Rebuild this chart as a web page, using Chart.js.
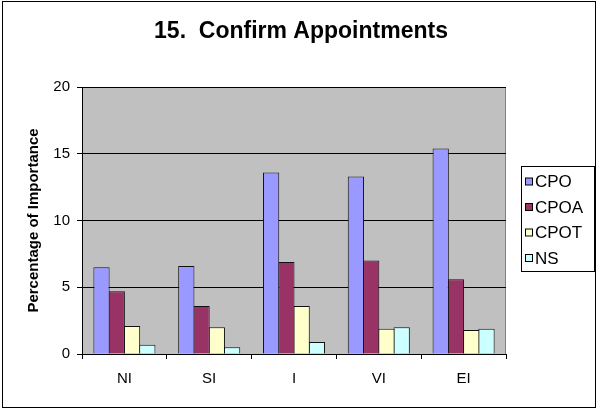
<!DOCTYPE html>
<html lang="en">
<head>
    <meta charset="UTF-8">
    <title>15. Confirm Appointments</title>
    <script src="https://cdn.jsdelivr.net/npm/chart.js"></script>
    <style>
        body { margin: 0; background: #fff; }
        #wrap { width: 598px; height: 409px; }
    </style>
</head>
<body>
    <div id="wrap"><canvas id="chart"></canvas></div>

    <script>
        const categories = ['NI', 'SI', 'I', 'VI', 'EI'];
        const seriesNames = ['CPO', 'CPOA', 'CPOT', 'NS'];
        const cpo  = [6.5, 6.6, 13.6, 13.3, 15.4];
        const cpoa = [4.7, 3.6, 6.9, 7.0, 5.6];
        const cpot = [2.1, 2.0, 3.6, 1.9, 1.8];
        const ns   = [0.7, 0.5, 0.9, 2.0, 1.9];
        const yTicks = [0, 5, 10, 15, 20];

        const colors = ['#9999FF', '#993366', '#FFFFCC', '#CCFFFF'];
        const values = [cpo, cpoa, cpot, ns];
        const FONT = '"Liberation Sans", Arial, sans-serif';

        // gray plot area, outer frame, title and boxed legend
        const excelLook = {
            id: 'excelLook',
            beforeDraw(chart) {
                const { ctx, chartArea: a } = chart;
                ctx.save();
                ctx.fillStyle = '#fff';
                ctx.fillRect(0, 0, chart.width, chart.height);
                ctx.fillStyle = '#C0C0C0';
                ctx.fillRect(a.left, a.top, a.right - a.left, a.bottom - a.top);
                ctx.strokeStyle = '#808080';
                ctx.lineWidth = 1;
                ctx.beginPath();
                ctx.moveTo(a.left, a.top + 0.5);
                ctx.lineTo(a.right - 0.5, a.top + 0.5);
                ctx.lineTo(a.right - 0.5, a.bottom);
                ctx.stroke();
                ctx.restore();
            },
            afterDraw(chart) {
                const { ctx } = chart;
                ctx.save();
                ctx.strokeStyle = '#000';
                ctx.lineWidth = 1;
                ctx.strokeRect(2.5, 1.5, chart.width - 5, chart.height - 3);

                ctx.fillStyle = '#000';
                ctx.font = 'bold 23px ' + FONT;
                ctx.textAlign = 'center';
                ctx.textBaseline = 'middle';
                ctx.fillText('15.  Confirm Appointments', 301, 32);

                // legend
                ctx.strokeRect(521.5, 166.5, 73, 105);
                ctx.font = '17px ' + FONT;
                ctx.textAlign = 'left';
                chart.data.datasets.forEach((ds, i) => {
                    const y = 181.5 + i * 25.5;
                    ctx.fillStyle = ds.backgroundColor;
                    ctx.fillRect(525.5, y - 3.5, 7, 7);
                    ctx.strokeStyle = '#000';
                    ctx.strokeRect(525.5, y - 3.5, 7, 7);
                    ctx.fillStyle = '#000';
                    ctx.fillText(ds.label, 535, y + 1);
                });
                ctx.restore();
            }
        };

        const ctx = document.getElementById('chart').getContext('2d');
        const chart = new Chart(ctx, {
            type: 'bar',
            data: {
                labels: categories,
                datasets: seriesNames.map((name, i) => ({
                    label: name,
                    data: values[i],
                    backgroundColor: colors[i],
                    borderColor: '#111',
                    borderWidth: 1,
                    borderSkipped: 'bottom',
                    categoryPercentage: 0.72,
                    barPercentage: 1.065
                }))
            },
            options: {
                responsive: true,
                maintainAspectRatio: false,
                animation: false,
                layout: { padding: { left: 0, top: 87, right: 92, bottom: 0 } },
                plugins: {
                    legend: { display: false },
                    title: { display: false },
                    tooltip: { enabled: false }
                },
                scales: {
                    x: {
                        afterFit: (s) => { s.height = 55; },
                        grid: {
                            offset: true,
                            drawOnChartArea: false,
                            tickLength: 5,
                            color: '#000'
                        },
                        border: { color: '#000' },
                        ticks: {
                            color: '#000',
                            padding: 11,
                            font: { family: FONT, size: 15 }
                        }
                    },
                    y: {
                        min: 0,
                        max: 20,
                        afterFit: (s) => { s.width = 82; },
                        afterBuildTicks: (s) => { s.ticks = yTicks.map(v => ({ value: v })); },
                        grid: {
                            color: '#000',
                            tickLength: 5
                        },
                        border: { color: '#000' },
                        ticks: {
                            color: '#000',
                            padding: 7,
                            font: { family: FONT, size: 15 }
                        },
                        title: {
                            display: true,
                            text: 'Percentage of Importance',
                            color: '#000',
                            padding: { top: 25, bottom: 0 },
                            font: { family: FONT, size: 15, weight: 'bold' }
                        }
                    }
                }
            },
            plugins: [excelLook]
        });
    </script>
</body>
</html>
